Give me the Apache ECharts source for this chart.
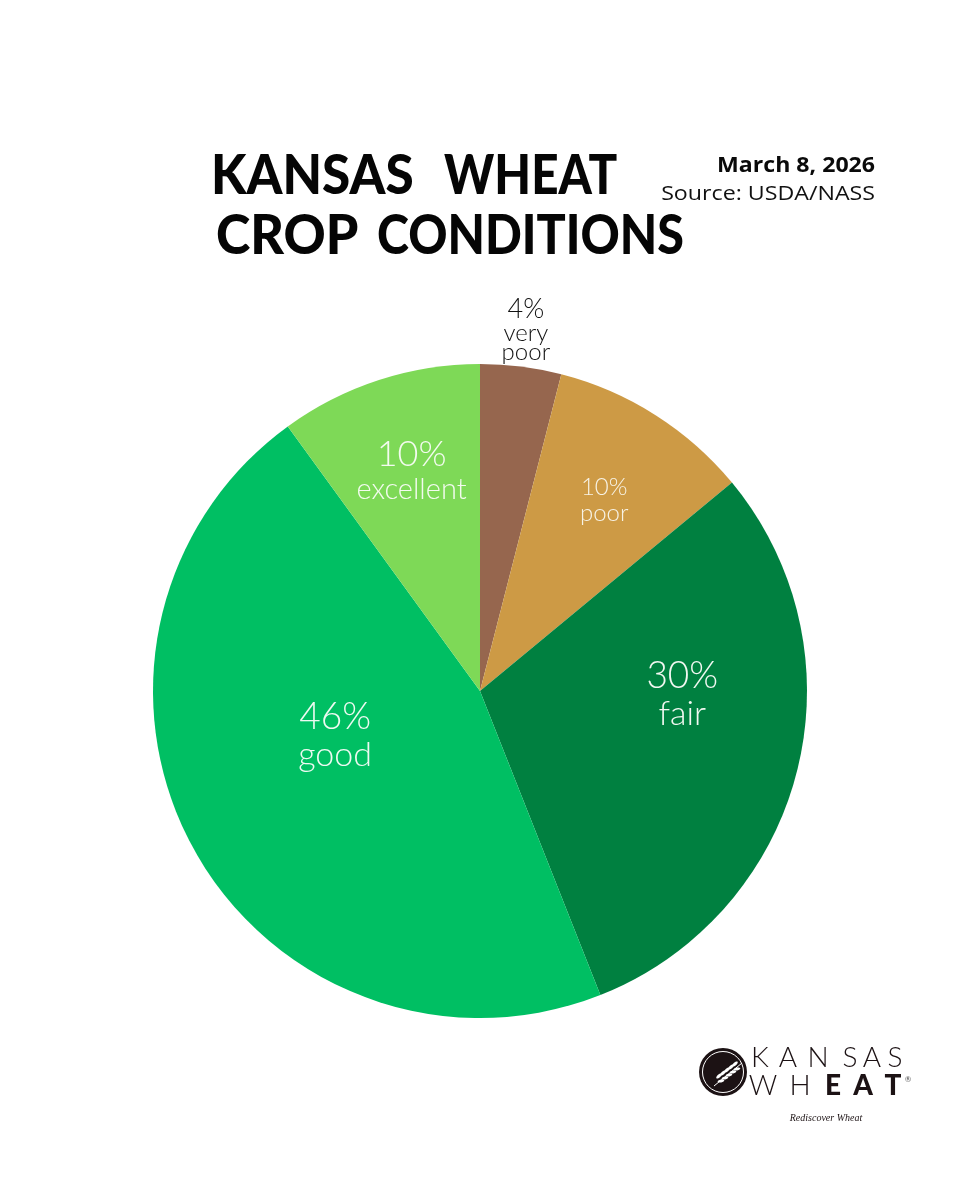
<!DOCTYPE html>
<html>
<head>
    <meta http-equiv="Content-Type" content="text/html; charset=utf-8">
    <title>Kansas Wheat Crop Conditions</title>
    <script src="https://cdn.jsdelivr.net/npm/echarts@6/dist/echarts.min.js"></script>
    <style>
        html, body {margin:0; padding:0; background:#fff;}
    </style>
</head>
<body>
    <div id="main" style="width:960px;height:1200px;"></div>
    <script type="text/javascript">
        var categories = ['very\npoor', 'poor', 'fair', 'good', 'excellent'];
        var values = [4, 10, 30, 46, 10];
        var colors = ['#96664e', '#cd9a45', '#008040', '#00bf63', '#7ed957'];
        var labelColors = ['#111111', '#f7f3e6', '#f2f8f2', '#eefaf2', '#f3fbef'];
        var percentSizes = [27, 24, 37, 37, 36];
        var nameSizes = [24, 24, 34, 34, 29];
        // nudges from the spot the library picks for each label
        var labelShift = [[25, -198], [35, -50], [41, -38], [1, -36], [-17, -62]];

        var pieData = categories.map(function (name, i) {
            return {
                name: name,
                value: values[i],
                itemStyle: {color: colors[i]},
                label: {
                    formatter: '{p|' + values[i] + '%}\n' + name.split('\n').map(function (s) { return '{n|' + s + '}'; }).join('\n'),
                    rich: {
                        p: {fontFamily: 'Lato', fontWeight: 300, fontSize: percentSizes[i], color: labelColors[i], lineHeight: percentSizes[i] + 2, align: 'center'},
                        n: {fontFamily: 'Lato', fontWeight: 300, fontSize: nameSizes[i], color: labelColors[i], lineHeight: i === 0 ? 19 : nameSizes[i] + 3, align: 'center'}
                    }
                }
            };
        });

        function word(text, x, y, scaleX) {
            return {
                type: 'text', x: x, y: y, scaleX: scaleX,
                style: {text: text, font: '900 56px Lato', fill: '#050505', textVerticalAlign: 'middle'}
            };
        }

        // logo letters, one by one because of the wide spacing
        var logoTop = ['K', 'A', 'N', 'S', 'A', 'S'];
        var logoTopX = [760, 788, 818, 850, 872, 895];
        var logoBottom = ['W', 'H', 'E', 'A', 'T'];
        var logoBottomX = [763, 800, 833, 863, 893];
        var logoGraphics = [
            {type: 'circle', shape: {cx: 723, cy: 1072, r: 24}, style: {fill: '#1c1214'}},
            {type: 'circle', shape: {cx: 723, cy: 1072, r: 20.5}, style: {fill: 'none', stroke: '#fff', lineWidth: 1}},
            {type: 'line', shape: {x1: 714, y1: 1086, x2: 742, y2: 1063}, style: {stroke: '#fff', lineWidth: 1}}
        ];
        // wheat grains along the stalk
        [[719, 1079], [723, 1076], [727, 1073], [731, 1070], [735, 1067]].forEach(function (g) {
            logoGraphics.push({type: 'ellipse', shape: {cx: g[0], cy: g[1] - 3, rx: 3.4, ry: 1.5}, rotation: 0.7, originX: g[0], originY: g[1] - 3, style: {fill: '#fff'}});
            logoGraphics.push({type: 'ellipse', shape: {cx: g[0] + 2, cy: g[1] + 2, rx: 3.4, ry: 1.5}, rotation: 0.2, originX: g[0] + 2, originY: g[1] + 2, style: {fill: '#fff'}});
        });
        logoTop.forEach(function (c, i) {
            logoGraphics.push({type: 'text', x: logoTopX[i], y: 1058, style: {text: c, font: '300 28px Lato', fill: '#1c1214', textAlign: 'center', textVerticalAlign: 'middle'}});
        });
        logoBottom.forEach(function (c, i) {
            logoGraphics.push({type: 'text', x: logoBottomX[i], y: 1086, style: {text: c, font: (i < 2 ? '300' : '900') + ' 28px Lato', fill: '#1c1214', textAlign: 'center', textVerticalAlign: 'middle'}});
        });
        logoGraphics.push({type: 'text', x: 908, y: 1079, style: {text: '®', font: '8px Lato', fill: '#555', textAlign: 'center', textVerticalAlign: 'middle'}});
        logoGraphics.push({type: 'text', x: 826, y: 1118, style: {text: 'Rediscover Wheat', font: 'italic 10px "Liberation Serif"', fill: '#1c1214', textAlign: 'center', textVerticalAlign: 'middle'}});

        var myChart = echarts.init(document.getElementById('main'));

        var option = {
            backgroundColor: '#ffffff',
            animation: false,
            graphic: [
                word('KANSAS', 211, 176, 0.914),
                word('WHEAT', 444, 176, 0.85),
                word('CROP', 216, 236, 0.93),
                word('CONDITIONS', 377, 236, 0.865),
                {type: 'text', x: 875, y: 166, scaleX: 1.05, style: {text: 'March 8, 2026', font: '700 22px "Open Sans"', fill: '#0a0a0a', textAlign: 'right', textVerticalAlign: 'middle'}},
                {type: 'text', x: 875, y: 194, scaleX: 1.16, style: {text: 'Source: USDA/NASS', font: '400 20px "Open Sans"', fill: '#111', textAlign: 'right', textVerticalAlign: 'middle'}}
            ].concat(logoGraphics),
            series: [{
                type: 'pie',
                center: [480, 691],
                radius: 327,
                startAngle: 90,
                silent: true,
                label: {show: true, position: 'inside'},
                labelLine: {show: false},
                labelLayout: function (p) {
                    return {dx: labelShift[p.dataIndex][0], dy: labelShift[p.dataIndex][1]};
                },
                data: pieData
            }]
        };
        myChart.setOption(option);
    </script>
</body>
</html>
